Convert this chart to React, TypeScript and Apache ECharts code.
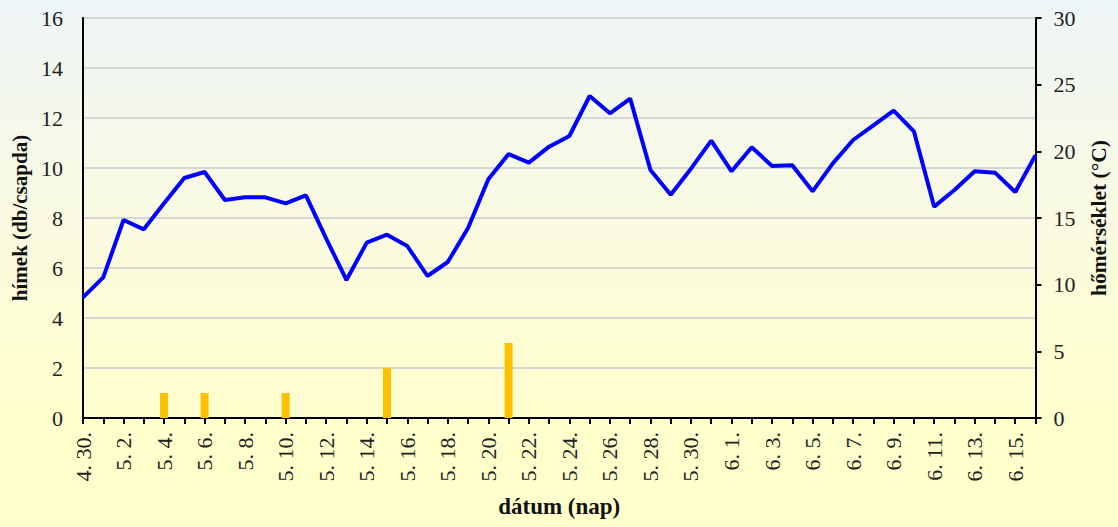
import React, { useEffect, useRef } from "react";
import * as echarts from "echarts";

const categories: string[] = [
  "4. 30.",
  "5. 1.", "5. 2.", "5. 3.", "5. 4.", "5. 5.", "5. 6.", "5. 7.", "5. 8.", "5. 9.", "5. 10.",
  "5. 11.", "5. 12.", "5. 13.", "5. 14.", "5. 15.", "5. 16.", "5. 17.", "5. 18.", "5. 19.", "5. 20.",
  "5. 21.", "5. 22.", "5. 23.", "5. 24.", "5. 25.", "5. 26.", "5. 27.", "5. 28.", "5. 29.", "5. 30.", "5. 31.",
  "6. 1.", "6. 2.", "6. 3.", "6. 4.", "6. 5.", "6. 6.", "6. 7.", "6. 8.", "6. 9.", "6. 10.",
  "6. 11.", "6. 12.", "6. 13.", "6. 14.", "6. 15.", "6. 16.",
];

// hímek (db/csapda) – left axis
const males: number[] = [
  0, 0, 0, 0, 1, 0, 1, 0, 0, 0, 1,
  0, 0, 0, 0, 2, 0, 0, 0, 0, 0,
  3, 0, 0, 0, 0, 0, 0, 0, 0, 0, 0,
  0, 0, 0, 0, 0, 0, 0, 0, 0, 0,
  0, 0, 0, 0, 0, 0,
];

// hőmérséklet (°C) – right axis
const temperature: number[] = [
  9.05,
  10.55, 14.85, 14.15, 16.1, 18.0, 18.45, 16.35, 16.55, 16.55, 16.1,
  16.7, 13.45, 10.35, 13.15, 13.75, 12.9, 10.65, 11.7, 14.25, 17.9,
  19.8, 19.15, 20.35, 21.15, 24.15, 22.85, 23.95, 18.6, 16.75, 18.7, 20.8,
  18.5, 20.3, 18.9, 18.95, 17.0, 19.1, 20.85, 21.95, 23.05, 21.5,
  15.85, 17.1, 18.5, 18.4, 16.95, 19.7,
];

const FONT = '"Liberation Serif", "Times New Roman", serif';

export default function App() {
  const ref = useRef<HTMLDivElement>(null);

  useEffect(() => {
    document.body.style.margin = "0";
    if (!ref.current) return;
    const chart = echarts.init(ref.current, undefined, { renderer: "svg" });
    chart.setOption({
      animation: false,
      backgroundColor: "transparent",
      textStyle: { fontFamily: FONT },
      grid: {
        left: 83,
        right: 82.5,
        top: 18,
        bottom: 109,
        containLabel: false,
        outerBoundsMode: "none",
      },
      xAxis: {
        type: "category",
        data: categories,
        boundaryGap: false,
        name: "dátum (nap)",
        nameLocation: "middle",
        nameGap: 77,
        nameTextStyle: { fontFamily: FONT, fontSize: 23, fontWeight: "bold", color: "#111" },
        axisLine: { show: true, lineStyle: { color: "#000", width: 2 } },
        axisTick: { show: true, interval: 0, length: 6, lineStyle: { color: "#000", width: 2 } },
        axisLabel: {
          interval: 1,
          rotate: 90,
          margin: 14,
          fontFamily: FONT,
          fontSize: 22,
          color: "#222",
        },
        splitLine: { show: false },
      },
      yAxis: [
        {
          type: "value",
          min: 0,
          max: 16,
          interval: 2,
          name: "hímek (db/csapda)",
          nameLocation: "middle",
          nameGap: 50,
          nameRotate: 90,
          nameTextStyle: { fontFamily: FONT, fontSize: 21, fontWeight: "bold", color: "#111" },
          axisLine: { show: true, lineStyle: { color: "#000", width: 2 } },
          axisTick: { show: false },
          axisLabel: { margin: 20, fontFamily: FONT, fontSize: 22, color: "#222" },
          splitLine: { show: true, lineStyle: { color: "#D6D6D6", width: 2 } },
        },
        {
          type: "value",
          min: 0,
          max: 30,
          interval: 5,
          position: "right",
          name: "hőmérséklet (°C)",
          nameLocation: "middle",
          nameGap: 52,
          nameRotate: 90,
          nameTextStyle: { fontFamily: FONT, fontSize: 21.5, fontWeight: "bold", color: "#111" },
          axisLine: { show: true, lineStyle: { color: "#000", width: 2 } },
          axisTick: { show: true, inside: false, length: 6, lineStyle: { color: "#000", width: 2 } },
          axisLabel: { margin: 18, fontFamily: FONT, fontSize: 22, color: "#222" },
          splitLine: { show: false },
        },
      ],
      series: [
        {
          name: "hímek",
          type: "bar",
          yAxisIndex: 0,
          data: males,
          barWidth: 8,
          itemStyle: { color: "#FFC000" },
          z: 2,
        },
        {
          name: "hőmérséklet",
          type: "line",
          yAxisIndex: 1,
          data: temperature,
          symbol: "none",
          lineStyle: { color: "#0000FF", width: 4 },
          z: 3,
        },
      ],
    });
    return () => chart.dispose();
  }, []);

  return (
    <div
      style={{
        position: "fixed",
        left: 0,
        top: 0,
        width: 1118,
        height: 527,
        background: "linear-gradient(to bottom, #EEF5F7 0%, #F9FAE2 40%, #FDFDD3 65%, #FFFFCC 85%, #FFFFCC 100%)",
      }}
    >
      <div ref={ref} style={{ width: 1118, height: 527 }} />
    </div>
  );
}
